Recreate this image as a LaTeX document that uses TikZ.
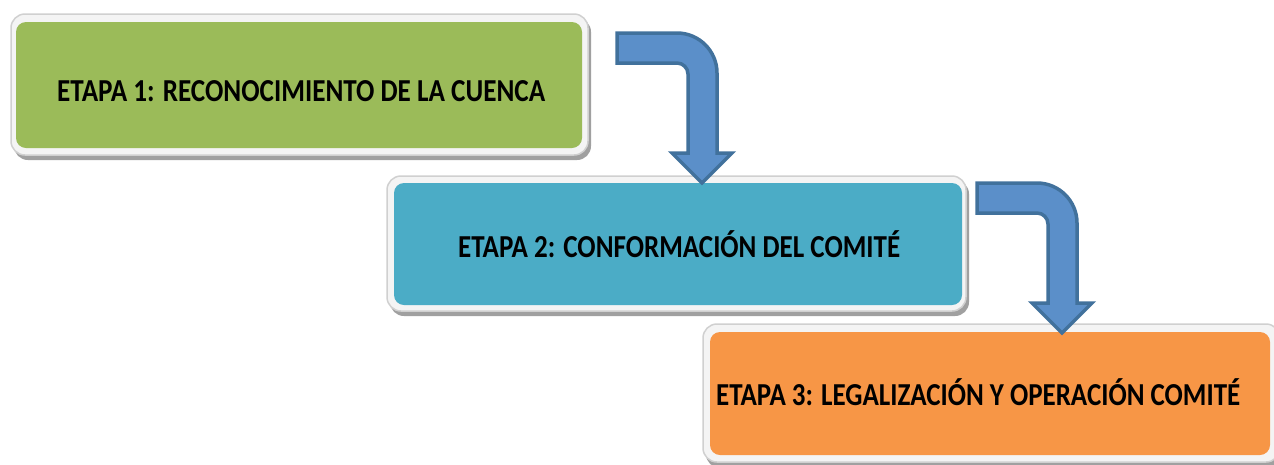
\documentclass[tikz,border=0pt]{standalone}
\usepackage{fontspec}
\setmainfont{Carlito}
\usepackage{graphicx}
\definecolor{stgreen}{HTML}{9BBB59}
\definecolor{stteal}{HTML}{4BACC6}
\definecolor{storange}{HTML}{F79646}
\definecolor{arrfill}{HTML}{5B8FC9}
\definecolor{arrline}{HTML}{41719C}
\definecolor{framefill}{HTML}{F4F4F4}
\definecolor{frameline}{HTML}{D0D0D0}
\definecolor{shadowc}{HTML}{A0A0A0}
\tikzset{
  stagebox/.style={rectangle, rounded corners=10pt, draw=none, inner sep=0pt},
  framebox/.style={fill=framefill, draw=frameline, line width=1.5pt, rounded corners=14pt},
  shadowbox/.style={fill=shadowc, rounded corners=14pt},
  lbl/.style={inner sep=0pt, font=\fontsize{32}{34}\selectfont\bfseries, text=black},
  blockarrow/.style={fill=arrfill, draw=arrline, line width=3.5pt, line join=miter}
}
\begin{document}
\begin{tikzpicture}[x=1pt,y=-1pt]
\useasboundingbox (0,0) rectangle (1274,464);
\fill[white] (0,0) rectangle (1274,464);
% frames and shadows
\fill[shadowbox] (14,18) rectangle (591,160);
\draw[framebox] (11,14) rectangle (588,155);
\fill[shadowbox] (390,180) rectangle (969,316);
\draw[framebox] (387,176) rectangle (966,311);
\fill[shadowbox] (706,328) rectangle (1283,468);
\draw[framebox] (703,324) rectangle (1280,462);
% stage boxes
\node[stagebox, fill=stgreen, minimum width=566pt, minimum height=126pt] (b1) at (299,85) {};
\node[stagebox, fill=stteal, minimum width=568pt, minimum height=122pt] (b2) at (678,244) {};
\node[stagebox, fill=storange, minimum width=560pt, minimum height=123pt] (b3) at (990,393.5) {};
% labels
\node[lbl, anchor=base west] (t1) at (57,101) {\resizebox{488pt}{\height}{ETAPA 1: RECONOCIMIENTO DE LA CUENCA}};
\node[lbl, anchor=base west] (t2) at (458,257) {\resizebox{442pt}{\height}{ETAPA 2: CONFORMACIÓN DEL COMITÉ}};
\node[lbl, anchor=base west] (t3) at (716,405) {\resizebox{524pt}{\height}{ETAPA 3: LEGALIZACIÓN Y OPERACIÓN COMITÉ}};
% bent block arrows
\filldraw[blockarrow] (617,33) -- (677,33) .. controls (699,33) and (717,51) .. (717,73) -- (717,153) -- (732,153) -- (702,183) -- (672,153) -- (688,153) -- (688,74) .. controls (688,68) and (683,63) .. (677,63) -- (617,63) -- cycle;
\filldraw[blockarrow] (977,183) -- (1037,183) .. controls (1059,183) and (1077,201) .. (1077,223) -- (1077,303) -- (1092,303) -- (1062,333) -- (1032,303) -- (1048,303) -- (1048,224) .. controls (1048,218) and (1043,213) .. (1037,213) -- (977,213) -- cycle;
\end{tikzpicture}
\end{document}
